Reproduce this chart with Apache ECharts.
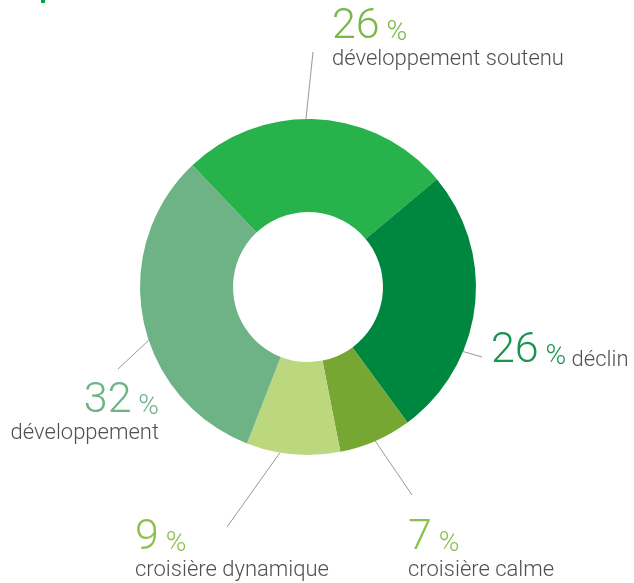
<!DOCTYPE html>
<html><head><meta charset="utf-8">
<script src="https://cdn.jsdelivr.net/npm/echarts@6/dist/echarts.min.js"></script>
<style>html,body{margin:0;padding:0;background:#fff}#c{width:634px;height:583px}</style>
</head><body><div id="c"></div>
<script>
// ---- data ----
const categories = ['développement soutenu', 'déclin', 'croisière calme', 'croisière dynamique', 'développement'];
const values = [26, 26, 7, 9, 32];
const valueLabels = ['26', '26', '7', '9', '32'];

// ---- styles ----
const sliceColors = ['#27b24b', '#00873f', '#77a733', '#bcd87f', '#6db386'];
const numberColors = ['#7ab648', '#1a9450', '#8dc04b', '#8dc04b', '#6db386'];
const FONT = 'Roboto, "Noto Sans", sans-serif';
const CX = 308, CY = 287, R_IN = 75, R_OUT = 168;

// label layout (label anchor x, y, align) and leader lines (start angle from north, end point)
const labelPos = [[332, 7, 'left'], [491, 331, 'left'], [408, 518, 'left'], [135, 518, 'left'], [159, 381, 'right']];
const lineStartAngle = [-0.7, 112.6, 156.4, 189.6, 251.5];
const lineEnd = [[313, 52], [482, 357], [412, 495], [227, 527], [118, 369]];

function richFor(i) {
  return {
    n: { fontFamily: FONT, fontWeight: 300, fontSize: 43, lineHeight: 40, color: numberColors[i] },
    p: { fontFamily: FONT, fontWeight: 300, fontSize: 28, lineHeight: 32, verticalAlign: 'bottom', color: numberColors[i] },
    t: { fontFamily: FONT, fontWeight: 300, fontSize: 22, lineHeight: 25, color: '#505050' },
    ti: { fontFamily: FONT, fontWeight: 300, fontSize: 22, lineHeight: 24, verticalAlign: 'bottom', color: '#505050' }
  };
}

const data = categories.map((name, i) => ({
  name: name,
  value: values[i],
  itemStyle: { color: sliceColors[i] },
  label: {
    align: labelPos[i][2],
    rich: richFor(i),
    formatter: i === 1
      ? '{n|' + valueLabels[i] + '}{p| %}{ti| ' + name + '}'
      : '{n|' + valueLabels[i] + '}{p| %}\n{t|' + name + '}'
  }
}));

const chart = echarts.init(document.getElementById('c'), null, { renderer: 'canvas' });
chart.setOption({
  animation: false,
  backgroundColor: '#ffffff',
  graphic: [{ type: 'rect', shape: { x: 41, y: 0, width: 4, height: 3 }, style: { fill: '#00a650' } }],
  series: [{
    type: 'pie',
    center: [CX, CY],
    radius: [R_IN, R_OUT],
    startAngle: 133.5,
    clockwise: true,
    avoidLabelOverlap: false,
    emphasis: { disabled: true },
    data: data,
    label: {
      show: true,
      position: 'outside',
      alignTo: 'none'
    },
    labelLine: {
      show: true,
      length: 10,
      length2: 10,
      lineStyle: { color: '#999999', width: 1 }
    },
    labelLayout: function (params) {
      const i = params.dataIndex;
      const a = lineStartAngle[i] * Math.PI / 180;
      const sx = CX + R_OUT * Math.sin(a);
      const sy = CY - R_OUT * Math.cos(a);
      return {
        x: labelPos[i][0],
        y: labelPos[i][1],
        align: labelPos[i][2],
        verticalAlign: 'top',
        labelLinePoints: [[sx, sy], [lineEnd[i][0], lineEnd[i][1]], [lineEnd[i][0], lineEnd[i][1]]]
      };
    }
  }]
});
</script>
</body></html>
